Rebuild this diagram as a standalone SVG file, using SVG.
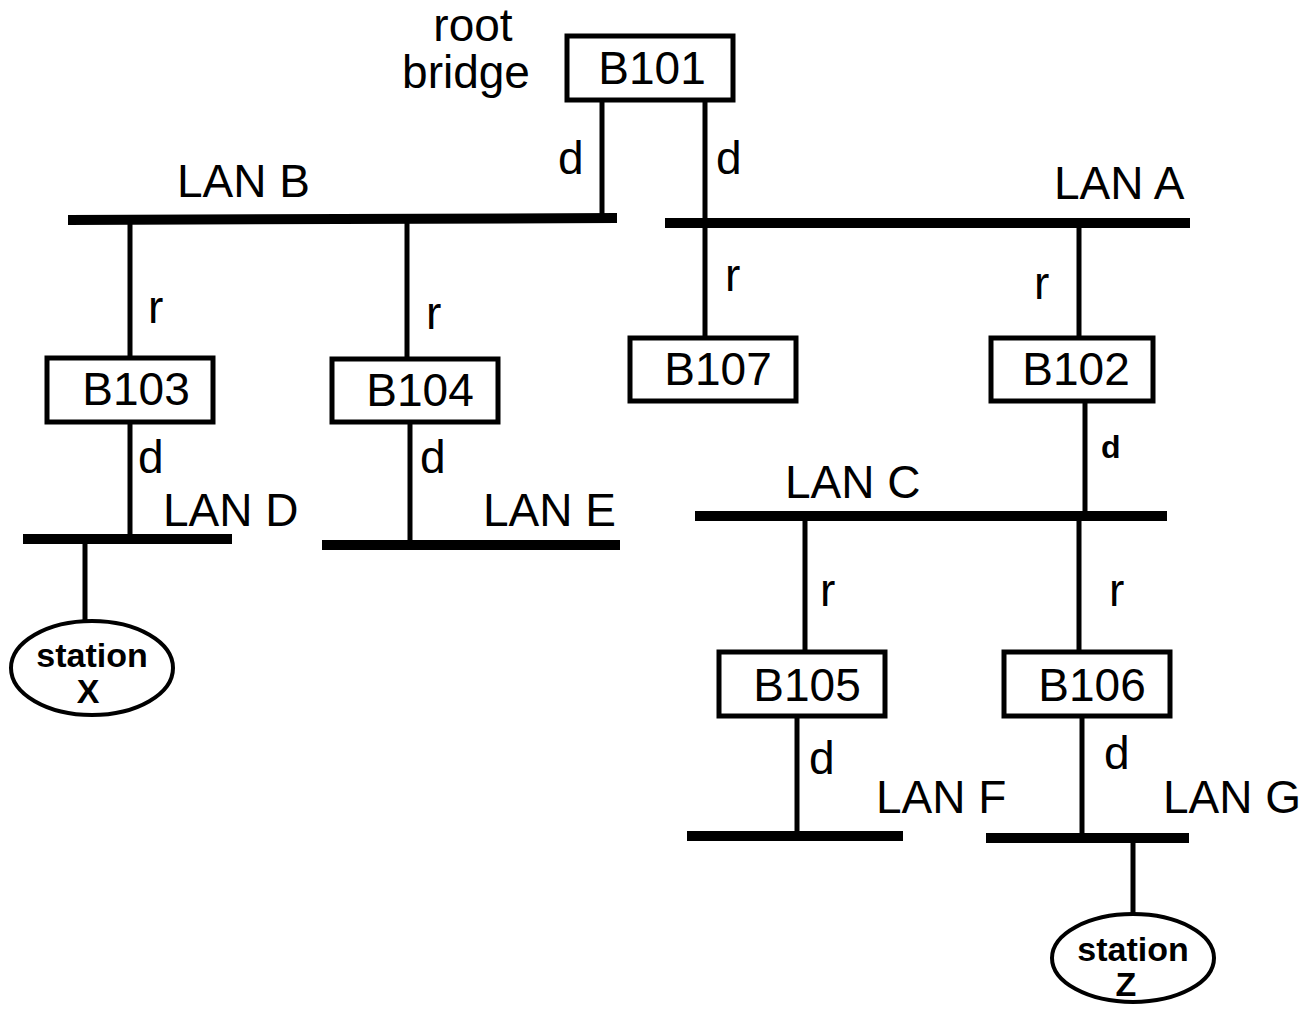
<svg xmlns="http://www.w3.org/2000/svg" width="1308" height="1010" viewBox="0 0 1308 1010">
<style>
text{font-family:"Liberation Sans",Arial,sans-serif;fill:#000}
.t{font-size:46px}
.b{font-size:46px;text-anchor:middle}
.s{font-size:34px;font-weight:bold;text-anchor:middle}
.box{fill:#fff;stroke:#000;stroke-width:5}
.lan{stroke:#000;stroke-width:10;fill:none}
.ln{stroke:#000;stroke-width:5;fill:none}
.st{fill:#fff;stroke:#000;stroke-width:4}
</style>
<rect width="1308" height="1010" fill="#fff"/>
<g id="connectors">
<line class="ln" x1="602" y1="100" x2="602" y2="216"/>
<line class="ln" x1="705" y1="100" x2="705" y2="338"/>
<line class="ln" x1="130" y1="220" x2="130" y2="357"/>
<line class="ln" x1="130" y1="422" x2="130" y2="539"/>
<line class="ln" x1="407" y1="220" x2="407" y2="359"/>
<line class="ln" x1="410" y1="421" x2="410" y2="545"/>
<line class="ln" x1="1079" y1="224" x2="1079" y2="338"/>
<line class="ln" x1="1085" y1="400" x2="1085" y2="517"/>
<line class="ln" x1="805" y1="517" x2="805" y2="653"/>
<line class="ln" x1="1079" y1="517" x2="1079" y2="653"/>
<line class="ln" x1="797" y1="712" x2="797" y2="836"/>
<line class="ln" x1="1082" y1="716" x2="1082" y2="838"/>
<line class="ln" x1="85" y1="539" x2="85" y2="622"/>
<line class="ln" x1="1133" y1="838" x2="1133" y2="915"/>
</g>
<g id="lans">
<line class="lan" x1="68" y1="220" x2="617" y2="218"/>
<line class="lan" x1="665" y1="223" x2="1190" y2="223"/>
<line class="lan" x1="23" y1="539" x2="232" y2="539"/>
<line class="lan" x1="322" y1="545" x2="620" y2="545"/>
<line class="lan" x1="695" y1="516" x2="1167" y2="516"/>
<line class="lan" x1="687" y1="836" x2="903" y2="836"/>
<line class="lan" x1="986" y1="838" x2="1189" y2="838"/>
</g>
<g id="B101"><rect class="box" x="567" y="36" width="166" height="64"/><text class="b" x="652" y="84">B101</text></g>
<g id="B103"><rect class="box" x="47" y="358" width="166" height="64"/><text class="b" x="136" y="405">B103</text></g>
<g id="B104"><rect class="box" x="332" y="359" width="166" height="63"/><text class="b" x="420" y="406">B104</text></g>
<g id="B107"><rect class="box" x="630" y="338" width="166" height="63"/><text class="b" x="718" y="385">B107</text></g>
<g id="B102"><rect class="box" x="991" y="338" width="162" height="63"/><text class="b" x="1076" y="385">B102</text></g>
<g id="B105"><rect class="box" x="719" y="652" width="166" height="64"/><text class="b" x="807" y="701">B105</text></g>
<g id="B106"><rect class="box" x="1004" y="652" width="166" height="64"/><text class="b" x="1092" y="701">B106</text></g>
<g id="stationX"><ellipse class="st" cx="92" cy="668" rx="81" ry="47"/><text class="s" x="92" y="667">station</text><text class="s" x="88" y="703">X</text></g>
<g id="stationZ"><ellipse class="st" cx="1133" cy="958" rx="81" ry="44"/><text class="s" x="1133" y="961">station</text><text class="s" x="1126" y="996">Z</text></g>
<g id="labels">
<text class="b" x="473" y="41">root</text>
<text class="b" x="466" y="88">bridge</text>
<text class="t" x="558" y="174">d</text>
<text class="t" x="716" y="174">d</text>
<text class="t" x="177" y="197">LAN B</text>
<text class="t" x="1054" y="199">LAN A</text>
<text class="t" x="148" y="323">r</text>
<text class="t" x="426" y="329">r</text>
<text class="t" x="725" y="291">r</text>
<text class="t" x="1034" y="299">r</text>
<text class="t" x="138" y="473">d</text>
<text class="t" x="420" y="473">d</text>
<text class="t" x="163" y="526">LAN D</text>
<text class="t" x="483" y="526">LAN E</text>
<text x="1101" y="458" style="font-size:32px;font-weight:bold">d</text>
<text class="t" x="785" y="498">LAN C</text>
<text class="t" x="820" y="606">r</text>
<text class="t" x="1109" y="606">r</text>
<text class="t" x="809" y="774">d</text>
<text class="t" x="1104" y="769">d</text>
<text class="t" x="876" y="813">LAN F</text>
<text class="t" x="1163" y="813">LAN G</text>
</g>
</svg>
